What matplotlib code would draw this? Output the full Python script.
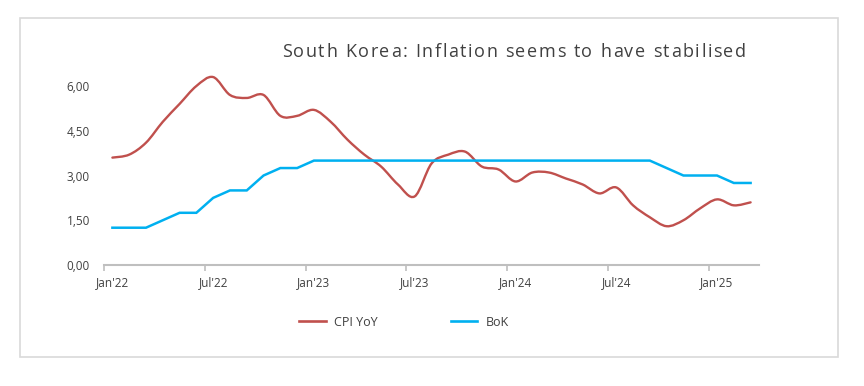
import numpy as np
import matplotlib
matplotlib.use("Agg")
import matplotlib.pyplot as plt
from matplotlib.path import Path
from matplotlib.patches import PathPatch, Rectangle
from matplotlib.lines import Line2D

# ---- data (monthly, Jan'22 .. Mar'25) ----
months = ["Jan'22", "Feb'22", "Mar'22", "Apr'22", "May'22", "Jun'22", "Jul'22", "Aug'22", "Sep'22", "Oct'22", "Nov'22", "Dec'22",
          "Jan'23", "Feb'23", "Mar'23", "Apr'23", "May'23", "Jun'23", "Jul'23", "Aug'23", "Sep'23", "Oct'23", "Nov'23", "Dec'23",
          "Jan'24", "Feb'24", "Mar'24", "Apr'24", "May'24", "Jun'24", "Jul'24", "Aug'24", "Sep'24", "Oct'24", "Nov'24", "Dec'24",
          "Jan'25", "Feb'25", "Mar'25"]
cpi_yoy = [3.6, 3.7, 4.1, 4.8, 5.4, 6.0, 6.3, 5.7, 5.6, 5.7, 5.0, 5.0,
           5.2, 4.8, 4.2, 3.7, 3.3, 2.7, 2.3, 3.4, 3.7, 3.8, 3.3, 3.2,
           2.8, 3.1, 3.1, 2.9, 2.7, 2.4, 2.6, 2.0, 1.6, 1.3, 1.5, 1.9,
           2.2, 2.0, 2.1]
bok_rate = [1.25, 1.25, 1.25, 1.50, 1.75, 1.75, 2.25, 2.50, 2.50, 3.00, 3.25, 3.25,
            3.50, 3.50, 3.50, 3.50, 3.50, 3.50, 3.50, 3.50, 3.50, 3.50, 3.50, 3.50,
            3.50, 3.50, 3.50, 3.50, 3.50, 3.50, 3.50, 3.50, 3.50, 3.25, 3.00, 3.00,
            3.00, 2.75, 2.75]
y_ticks = [0.0, 1.5, 3.0, 4.5, 6.0]
label_months = ["Jan'22", "Jul'22", "Jan'23", "Jul'23", "Jan'24", "Jul'24", "Jan'25"]
title = "South Korea: Inflation seems to have stabilised"

RED = "#C0504D"
BLUE = "#00B0F0"
TXT = "#404040"
FONT = "Open Sans"

W, H = 864, 386
fig = plt.figure(figsize=(W / 100, H / 100), dpi=100)
fig.patch.set_facecolor("white")

# outer border
fig.add_artist(Rectangle((19.5 / W, 1 - 357 / H), (837.5 - 19.5) / W, (357 - 17.5) / H,
                         transform=fig.transFigure, fill=False, edgecolor="#D9D9D9", linewidth=1.2))

ymax = 6.5
x0, x1 = 104, 759
ybot = 265
px_per_unit = 29.83
ax = fig.add_axes([x0 / W, 1 - ybot / H, (x1 - x0) / W, ymax * px_per_unit / H])
ax.set_facecolor("none")

n = len(months)
xs = np.arange(n)

# smoothed CPI line (Excel-style Bezier smoothing through the data points)
pts = np.column_stack([xs, np.asarray(cpi_yoy, dtype=float)])
verts = [tuple(pts[0])]
codes = [Path.MOVETO]
for i in range(n - 1):
    p0 = pts[i - 1] if i > 0 else pts[i]
    p1 = pts[i]
    p2 = pts[i + 1]
    p3 = pts[i + 2] if i + 2 < n else pts[i + 1]
    c1 = p1 + (p2 - p0) / 6.0
    c2 = p2 - (p3 - p1) / 6.0
    verts += [tuple(c1), tuple(c2), tuple(p2)]
    codes += [Path.CURVE4] * 3
ax.add_patch(PathPatch(Path(verts, codes), fill=False, edgecolor=RED, linewidth=1.7,
                       capstyle="round", joinstyle="round", zorder=3))

ax.plot(xs, bok_rate, color=BLUE, linewidth=1.8, solid_joinstyle="miter", zorder=4)

ax.set_xlim(-0.5, n - 0.5)
ax.set_ylim(0, ymax)

for s in ["top", "right", "left"]:
    ax.spines[s].set_visible(False)
ax.spines["bottom"].set_color("#BFBFBF")
ax.spines["bottom"].set_linewidth(1.5)

# ticks at 6-month boundaries, labels at month centres
ax.set_xticks(np.arange(-0.5, n, 6))
ax.set_xticklabels([])
ax.tick_params(axis="x", which="major", length=4, width=1.2, color="#BFBFBF", direction="out")
lab_pos = [months.index(m) for m in label_months]
ax.set_xticks(lab_pos, minor=True)
ax.set_xticklabels(label_months, minor=True, fontsize=8.5, color=TXT, family=FONT)
ax.tick_params(axis="x", which="minor", length=0, pad=8)

ax.set_yticks(y_ticks)
ax.set_yticklabels([f"{v:.2f}".replace(".", ",") for v in y_ticks], fontsize=8.5, color=TXT, family=FONT)
ax.tick_params(axis="y", length=0, pad=10)

# letter-spaced title (drawn character by character)
renderer = fig.canvas.get_renderer()


def text_width(s):
    t = fig.text(0, 0, s + "x", fontsize=13, family=FONT)
    r = fig.text(0, 0, "x", fontsize=13, family=FONT)
    w = t.get_window_extent(renderer=renderer).width - r.get_window_extent(renderer=renderer).width
    t.remove()
    r.remove()
    return w


tx0 = 281.7
ty = 1 - 57 / H
extra = 1.6  # px of extra spacing per character
for i, ch in enumerate(title):
    wpx = text_width(title[:i]) if i else 0.0
    fig.text((tx0 + wpx + i * extra) / W, ty, ch, ha="left", va="baseline",
             fontsize=13, color=TXT, family=FONT)

handles = [Line2D([], [], color=RED, linewidth=1.9), Line2D([], [], color=BLUE, linewidth=1.9)]
leg = fig.legend(handles, ["CPI YoY", "BoK"], loc="center", bbox_to_anchor=(404 / W, 1 - 322 / H),
                 ncol=2, frameon=False, handlelength=2.1, handletextpad=0.65, columnspacing=5.9,
                 prop={"family": FONT, "size": 9})
for t in leg.get_texts():
    t.set_color(TXT)

fig.savefig("out.png", dpi=100, facecolor="white")
